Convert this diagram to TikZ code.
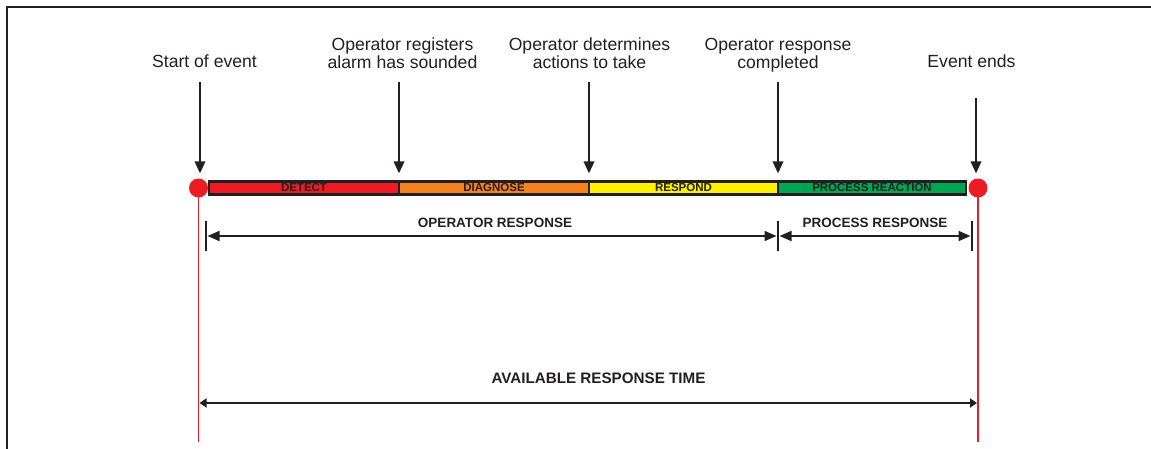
\documentclass[tikz,border=0pt]{standalone}
\usepackage{fontspec}
\setmainfont{Liberation Sans}
\usetikzlibrary{arrows.meta}
\definecolor{ink}{HTML}{231F20}
\definecolor{evred}{HTML}{ED1C24}
\definecolor{evorange}{HTML}{F58220}
\definecolor{evyellow}{HTML}{FFF200}
\definecolor{evgreen}{HTML}{00A651}
\tikzset{
  seg/.style={draw=ink, line width=2.2pt, minimum width=#1, minimum height=13pt,
    inner sep=0pt, text=ink, font=\fontsize{11.5}{12}\selectfont\bfseries},
  dot/.style={circle, fill=evred, minimum size=19pt, inner sep=0pt},
  toplabel/.style={anchor=base, inner sep=0pt, align=center, text=ink,
    font=\fontsize{17.6}{18.5}\selectfont},
  dimlabel/.style={anchor=base, inner sep=0pt, text=ink,
    font=\fontsize{13.5}{14}\selectfont\bfseries},
  pointer/.style={draw=ink, line width=2pt, -{Triangle[length=12pt,width=10.5pt]}},
  dimarrow/.style={draw=ink, line width=1.8pt,
    {Triangle[length=12pt,width=10pt]}-{Triangle[length=12pt,width=10pt]}},
  tickmark/.style={draw=ink, line width=1.8pt},
  spanarrow/.style={draw=ink, line width=2.6pt,
    {Triangle[length=7pt,width=9pt]}-{Triangle[length=7pt,width=9pt]}},
  redline/.style={draw=evred, line width=1.8pt},
}
\begin{document}
\begin{tikzpicture}[x=1pt, y=-1pt]
  \useasboundingbox (0,0) rectangle (1151,449);
  % frame edges
  \draw[ink, line width=2pt] (7,449) -- (7,7.5) -- (1151,7.5);

  % red event markers with their vertical lines
  \coordinate (startc) at (198.5,188);
  \coordinate (endc) at (978,188);
  \coordinate (startfoot) at (198.5,442);
  \coordinate (endfoot) at (978,442);
  \draw[redline] (startc) -- (startfoot);
  \draw[redline] (endc) -- (endfoot);
  \node[dot] (start) at (startc) {};
  \node[dot] (end) at (endc) {};

  % timeline phases
  \node[seg=190pt, fill=evred] (detect) at (304,188) {DETECT};
  \node[seg=190pt, fill=evorange] (diagnose) at (494,188) {DIAGNOSE};
  \node[seg=189pt, fill=evyellow] (respond) at (683.5,188) {RESPOND};
  \node[seg=188pt, fill=evgreen] (reaction) at (872,188) {PROCESS REACTION};

  % event labels (baseline of the last line)
  \node[toplabel] (lstart) at (204.5,68) {Start of event};
  \node[toplabel] (lalarm) at (402.5,69) {Operator registers\\alarm has sounded};
  \node[toplabel] (ldetermine) at (589.5,69) {Operator determines\\actions to take};
  \node[toplabel] (lcomplete) at (778,69) {Operator response\\completed};
  \node[toplabel] (lend) at (971.5,68) {Event ends};

  % pointers from the labels down to the timeline
  \coordinate (pstart) at (200,82);
  \coordinate (palarm) at (399,82);
  \coordinate (pdetermine) at (589,82);
  \coordinate (pcomplete) at (778,82);
  \coordinate (pend) at (976,98);
  \draw[pointer, shorten >=7pt] (pstart) -- (pstart |- detect.north);
  \draw[pointer, shorten >=7pt] (palarm) -- (palarm |- detect.north);
  \draw[pointer, shorten >=7pt] (pdetermine) -- (pdetermine |- diagnose.north);
  \draw[pointer, shorten >=7pt] (pcomplete) -- (pcomplete |- respond.north);
  \draw[pointer, shorten >=7pt] (pend) -- (pend |- reaction.north);

  % response spans
  \coordinate (opL) at (206,236);
  \coordinate (opR) at (778,236);
  \coordinate (prR) at (972,236);
  \foreach \c in {opL,opR,prR}
    \draw[tickmark] ([yshift=15pt]\c) -- ([yshift=-15pt]\c);
  \draw[dimarrow, shorten <=1.5pt, shorten >=1.5pt] (opL) -- (opR);
  \draw[dimarrow, shorten <=1.5pt, shorten >=1.5pt] (opR) -- (prR);
  \node[dimlabel] (lop) at (495,227) {OPERATOR RESPONSE};
  \node[dimlabel] (lpr) at (875,227) {PROCESS RESPONSE};

  % overall available time
  \coordinate (avL) at (199.5,403);
  \coordinate (avR) at (977,403);
  \draw[spanarrow] (avL) -- (avR);
  \node[dimlabel, font=\fontsize{15.2}{16}\selectfont\bfseries] (lav) at (598.5,383) {AVAILABLE RESPONSE TIME};
\end{tikzpicture}
\end{document}
